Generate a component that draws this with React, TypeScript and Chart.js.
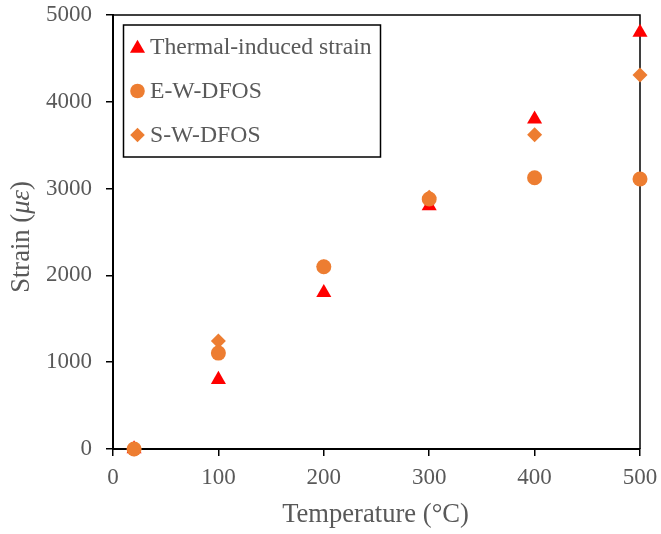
import React, { useEffect, useRef } from 'react';
import { Chart, registerables } from 'chart.js';

Chart.register(...registerables);

const temperatures = [20, 100, 200, 300, 400, 500];
const thermalStrain = [0, 800, 1800, 2800, 3800, 4800];
const ewDfos = [0, 1105, 2100, 2880, 3125, 3110];
const swDfos = [0, 1245, 2100, 2900, 3620, 4310];
const xTickValues = [0, 100, 200, 300, 400, 500];
const yTickValues = [0, 1000, 2000, 3000, 4000, 5000];
const seriesLabels = ['Thermal-induced strain', 'E-W-DFOS', 'S-W-DFOS'];
const xTitle = 'Temperature (°C)';
const yTitleParts = ['Strain (', 'με', ')'];

const RED = '#FF0000';
const ORANGE = '#ED7D31';
const GREY = '#595959';
const FONT = '"Liberation Serif", "Times New Roman", serif';

function drawMarker(ctx: CanvasRenderingContext2D, style: string, x: number, y: number, r: number, color: string) {
  ctx.save();
  ctx.fillStyle = color;
  ctx.beginPath();
  if (style === 'triangle') {
    let rad = 0;
    ctx.moveTo(x + Math.sin(rad) * r, y - Math.cos(rad) * r);
    rad += (2 * Math.PI) / 3;
    ctx.lineTo(x + Math.sin(rad) * r, y - Math.cos(rad) * r);
    rad += (2 * Math.PI) / 3;
    ctx.lineTo(x + Math.sin(rad) * r, y - Math.cos(rad) * r);
    ctx.closePath();
  } else if (style === 'circle') {
    ctx.arc(x, y, r, 0, Math.PI * 2);
  } else {
    ctx.moveTo(x, y - r);
    ctx.lineTo(x + r, y);
    ctx.lineTo(x, y + r);
    ctx.lineTo(x - r, y);
    ctx.closePath();
  }
  ctx.fill();
  ctx.restore();
}

const decorPlugin = {
  id: 'decor',
  beforeDatasetsDraw(chart: any) {
    const { ctx, chartArea } = chart;
    ctx.save();
    ctx.strokeStyle = '#000';
    ctx.lineWidth = 1.5;
    ctx.beginPath();
    ctx.moveTo(chartArea.left, chartArea.top);
    ctx.lineTo(chartArea.right, chartArea.top);
    ctx.lineTo(chartArea.right, chartArea.bottom);
    ctx.stroke();
    ctx.restore();
  },
  afterDraw(chart: any) {
    const { ctx, chartArea } = chart;
    ctx.save();
    // Legend
    const bx = 123.5, by = 25, bw = 257, bh = 132;
    ctx.fillStyle = '#fff';
    ctx.fillRect(bx, by, bw, bh);
    ctx.strokeStyle = '#000';
    ctx.lineWidth = 1.5;
    ctx.strokeRect(bx, by, bw, bh);
    const styles = ['triangle', 'circle', 'rectRot'];
    const colors = [RED, ORANGE, ORANGE];
    const radii = [8.7, 7.3, 7.3];
    const rowY = [47, 91, 135];
    ctx.font = `23.7px ${FONT}`;
    ctx.textBaseline = 'middle';
    ctx.textAlign = 'left';
    for (let i = 0; i < seriesLabels.length; i++) {
      drawMarker(ctx, styles[i], 137.5, rowY[i] + (i === 0 ? 1.5 : 0), radii[i], colors[i]);
      ctx.fillStyle = GREY;
      ctx.fillText(seriesLabels[i], 150, rowY[i] + 1);
    }
    // X title
    ctx.font = `26.6px ${FONT}`;
    ctx.textAlign = 'center';
    ctx.textBaseline = 'alphabetic';
    ctx.fillStyle = GREY;
    ctx.fillText(xTitle, (chartArea.left + chartArea.right) / 2 - 1, 522);
    // Y title (mixed italic)
    const normal = `26.6px ${FONT}`;
    const italic = `italic 26.6px ${FONT}`;
    ctx.font = normal;
    const w0 = ctx.measureText(yTitleParts[0]).width;
    const w2 = ctx.measureText(yTitleParts[2]).width;
    ctx.font = italic;
    const w1 = ctx.measureText(yTitleParts[1]).width;
    const total = w0 + w1 + w2;
    ctx.translate(29, (chartArea.top + chartArea.bottom) / 2 + 5);
    ctx.rotate(-Math.PI / 2);
    ctx.textAlign = 'left';
    let cx = -total / 2;
    ctx.font = normal;
    ctx.fillText(yTitleParts[0], cx, 0);
    cx += w0;
    ctx.font = italic;
    ctx.fillText(yTitleParts[1], cx, 0);
    cx += w1;
    ctx.font = normal;
    ctx.fillText(yTitleParts[2], cx, 0);
    ctx.restore();
  },
};

export default function App() {
  const canvasRef = useRef<HTMLCanvasElement | null>(null);

  useEffect(() => {
    const canvas = canvasRef.current;
    if (!canvas) return;
    const toPoints = (ys: number[]) => temperatures.map((t, i) => ({ x: t, y: ys[i] }));
    const chart = new Chart(canvas, {
      type: 'scatter',
      data: {
        datasets: [
          {
            label: seriesLabels[0],
            data: toPoints(thermalStrain),
            pointStyle: 'triangle',
            pointRadius: 8.7,
            pointBackgroundColor: RED,
            pointBorderWidth: 0,
            order: 2,
          },
          {
            label: seriesLabels[1],
            data: toPoints(ewDfos),
            pointStyle: 'circle',
            pointRadius: 7.5,
            pointBackgroundColor: ORANGE,
            pointBorderWidth: 0,
            order: 1,
          },
          {
            label: seriesLabels[2],
            data: toPoints(swDfos),
            pointStyle: 'rectRot',
            pointRadius: 7.5,
            pointBackgroundColor: ORANGE,
            pointBorderWidth: 0,
            order: 3,
          },
        ],
      },
      options: {
        animation: false,
        responsive: false,
        clip: false as any,
        layout: { padding: { left: 0, top: 15, right: 21, bottom: 0 } },
        plugins: {
          legend: { display: false },
          tooltip: { enabled: false },
        },
        scales: {
          x: {
            type: 'linear',
            min: 0,
            max: 500,
            afterBuildTicks: (s: any) => {
              s.ticks = xTickValues.map((v) => ({ value: v }));
            },
            ticks: {
              color: GREY,
              font: { family: FONT, size: 23 },
              padding: 8,
              maxRotation: 0,
              callback: (v: any) => String(v),
            },
            grid: {
              drawOnChartArea: false,
              drawTicks: true,
              tickLength: 7,
              color: '#000',
              lineWidth: 1.5,
            },
            border: { color: '#000', width: 2 },
            afterFit: (s: any) => {
              s.height = 85;
              s.paddingLeft = 0;
              s.paddingRight = 0;
              s.paddingTop = 0;
              s.paddingBottom = 0;
            },
          },
          y: {
            type: 'linear',
            min: 0,
            max: 5000,
            afterBuildTicks: (s: any) => {
              s.ticks = yTickValues.map((v) => ({ value: v }));
            },
            ticks: {
              color: GREY,
              font: { family: FONT, size: 23 },
              padding: 14,
              callback: (v: any) => String(v),
            },
            grid: {
              drawOnChartArea: false,
              drawTicks: true,
              tickLength: 7,
              color: '#000',
              lineWidth: 1.5,
            },
            border: { color: '#000', width: 2 },
            afterFit: (s: any) => {
              s.width = 113;
              s.paddingLeft = 0;
              s.paddingRight = 0;
              s.paddingTop = 0;
              s.paddingBottom = 0;
            },
          },
        },
      },
      plugins: [decorPlugin],
    });
    return () => chart.destroy();
  }, []);

  return (
    <div style={{ position: 'fixed', left: 0, top: 0, width: 661, height: 534, background: '#fff' }}>
      <canvas ref={canvasRef} width={661} height={534} style={{ display: 'block' }} />
    </div>
  );
}
